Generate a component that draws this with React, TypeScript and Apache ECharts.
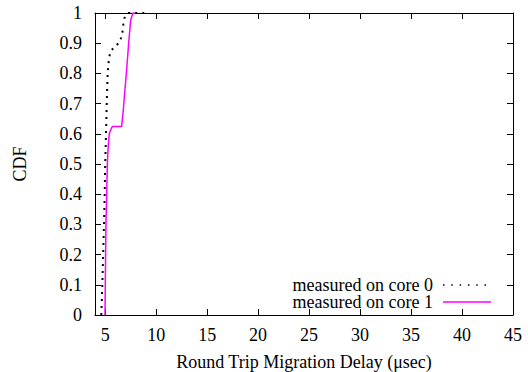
import React, { useEffect, useRef } from "react";
import * as echarts from "echarts";

// CDF of round trip migration delay (µsec), one curve per measuring core
const core0Delay = [4.62, 4.72, 4.8, 4.88, 4.95, 5.0, 5.08, 5.15, 5.24, 5.37, 5.54, 5.96, 6.45, 6.68, 6.77, 6.87, 7.27, 9.3];
const core0Cdf = [0, 0.1, 0.2, 0.3, 0.4, 0.5, 0.6, 0.7, 0.8, 0.85, 0.875, 0.888, 0.905, 0.933, 0.96, 0.982, 1, 1];

const core1Delay = [4.98, 5.01, 5.04, 5.08, 5.15, 5.21, 5.28, 5.4, 5.57, 5.7, 6.61, 6.78, 6.85, 7.1, 7.3, 7.5, 7.72, 8.0];
const core1Cdf = [0, 0.1, 0.2, 0.315, 0.4, 0.5, 0.55, 0.6, 0.615, 0.624, 0.624, 0.679, 0.712, 0.81, 0.9, 0.977, 1, 1];

const xTicks = [5, 10, 15, 20, 25, 30, 35, 40, 45];
const seriesNames = ["measured on core 0", "measured on core 1"];

const FONT = "Liberation Serif";
const FS = 18;

export default function App() {
  const ref = useRef<HTMLDivElement>(null);

  useEffect(() => {
    if (!ref.current) return;
    const chart = echarts.init(ref.current, undefined, { renderer: "svg" });
    const axisLine = { show: true, onZero: false, lineStyle: { color: "#000", width: 1 } };
    const tick = { inside: true, length: 6, lineStyle: { color: "#000" } };
    const txt = { fontFamily: FONT, fontSize: FS, color: "#000" };

    // key in the lower right: label, then a line sample to its right
    const keyRows = [
      { name: seriesNames[0], y: 285, stroke: "#000", lineDash: [1.5, 6.8], width: 1.5 },
      { name: seriesNames[1], y: 302, stroke: "#ff00ff", lineDash: null, width: 1.5 },
    ];
    const keyGraphics: any[] = [];
    keyRows.forEach((r) => {
      keyGraphics.push({
        type: "text",
        x: 433,
        y: r.y,
        style: {
          text: r.name,
          font: `${FS}px ${FONT}`,
          lineHeight: 16,
          fill: "#000",
          align: "right",
          verticalAlign: "middle",
        },
      });
      keyGraphics.push({
        type: "line",
        shape: { x1: 443, y1: r.y, x2: 491, y2: r.y },
        style: { stroke: r.stroke, lineWidth: r.width, lineDash: r.lineDash },
      });
    });

    chart.setOption({
      animation: false,
      backgroundColor: "#fff",
      textStyle: { fontFamily: FONT },
      grid: { left: 95, right: 15, top: 13, bottom: 57, containLabel: false, outerBoundsMode: "none" },
      graphic: keyGraphics,
      xAxis: [
        {
          type: "value",
          min: 4,
          max: 45,
          name: "Round Trip Migration Delay (\u03bcsec)",
          nameLocation: "middle",
          nameGap: 38,
          nameTextStyle: txt,
          axisLine,
          axisTick: { ...tick, customValues: xTicks },
          axisLabel: { customValues: xTicks, ...txt, margin: 11 },
          splitLine: { show: false },
        },
        {
          type: "value",
          position: "top",
          min: 4,
          max: 45,
          axisLine,
          axisTick: { ...tick, customValues: xTicks },
          axisLabel: { show: false, customValues: xTicks },
          splitLine: { show: false },
        },
      ],
      yAxis: [
        {
          type: "value",
          min: 0,
          max: 1,
          interval: 0.1,
          name: "CDF",
          nameLocation: "middle",
          nameGap: 66,
          nameTextStyle: txt,
          axisLine,
          axisTick: tick,
          axisLabel: {
            ...txt,
            margin: 13,
            formatter: (v: number) => String(Math.round(v * 10) / 10),
          },
          splitLine: { show: false },
        },
        {
          type: "value",
          position: "right",
          min: 0,
          max: 1,
          interval: 0.1,
          axisLine,
          axisTick: tick,
          axisLabel: { show: false },
          splitLine: { show: false },
        },
      ],
      series: [
        {
          name: seriesNames[0],
          type: "line",
          symbol: "none",
          data: core0Delay.map((x, i) => [x, core0Cdf[i]]),
          lineStyle: { color: "#000", width: 2, type: [2, 5] },
          itemStyle: { color: "#000" },
          z: 3,
        },
        {
          name: seriesNames[1],
          type: "line",
          symbol: "none",
          data: core1Delay.map((x, i) => [x, core1Cdf[i]]),
          lineStyle: { color: "#ff00ff", width: 1.5 },
          itemStyle: { color: "#ff00ff" },
          z: 2,
        },
      ],
    });
    return () => chart.dispose();
  }, []);

  return <div ref={ref} style={{ width: 528, height: 372, position: "absolute", left: 0, top: 0 }} />;
}
